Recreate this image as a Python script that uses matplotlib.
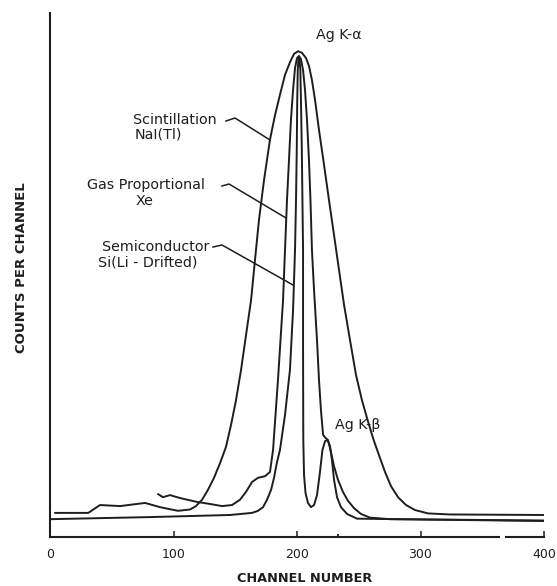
import matplotlib
matplotlib.use("Agg")
import matplotlib.pyplot as plt

# ---- data (channel number vs relative counts per channel, 0-100) ----
scint_ch = [4, 31, 40.5, 56.7, 77, 89, 103.6, 113.4, 118.2, 123.1, 127.9, 132.8, 137.7,
            142.5, 146.6, 150.6, 154.7, 158.7, 162.8, 166, 169.2, 173.3, 178.1, 182.2,
            186.2, 190.3, 194.3, 197.6, 200.8, 204, 207.3, 209.7, 212.1, 214.6, 217.8,
            221.9, 225.9, 230, 234, 238.1, 242.9, 247.8, 252.6, 256.7, 261.5, 266.4,
            271.3, 276.1, 281.8, 288.3, 295.5, 306.1, 323.9, 400]
scint_counts = [4.6, 4.6, 6.1, 5.9, 6.5, 5.7, 5.0, 5.25, 5.9, 7.1, 9.0, 11.3, 14.1,
                17.2, 21.4, 26.1, 31.9, 38.5, 45.2, 52.9, 60.5, 68.1, 75.8, 80.5,
                84.4, 88.2, 90.6, 92.2, 92.7, 92.4, 91.4, 89.9, 87.2, 83.4, 77.7,
                71, 64.3, 57.6, 51, 44.3, 37.6, 30.9, 26.1, 22.7, 18.9, 15.6,
                12.4, 9.7, 7.6, 6.1, 5.15, 4.5, 4.3, 4.2]

gas_ch = [87.4, 91.5, 97.2, 102.8, 107.7, 119, 129.6, 139.3, 147.4, 153.8, 158.7, 163.6,
          168.4, 174.1, 178.1, 180.6, 184.6, 188.7, 190.3, 191.9, 193.5, 195.1, 196.8,
          198.4, 200, 201.6, 203.2, 204.9, 206.5, 208.1, 209.7, 210.9, 212.1, 213.8,
          216.2, 217.8, 219.4, 221.1, 223.1, 225.1, 227.5, 230, 233.2, 237.2, 241.3,
          246.2, 251.8, 259.1, 275.3, 400]
gas_counts = [8.2, 7.6, 8.0, 7.6, 7.3, 6.7, 6.3, 5.9, 6.1, 7.1, 8.6, 10.5,
              11.3, 11.6, 12.4, 16.6, 30, 45.2, 54.8, 64.3, 71.9, 79.6, 85.3,
              89.5, 91.4, 91.8, 91.2, 89.1, 85.3, 79.6, 71.9, 64.3, 54.8, 47.1,
              37.6, 30, 24.2, 19.5, 18.9, 18.5, 16.2, 13.5, 10.9, 8.6, 6.9,
              5.5, 4.4, 3.7, 3.4, 3.15]

semi_ch = [0, 81, 145.7, 163.6, 168.4, 172.5, 175.7, 179, 181.4, 183.8, 186.2, 190.3,
           194.3, 196.8, 198.4, 199.2, 199.8, 200.2, 200.6, 201.2, 202, 202.7, 203.2,
           203.9, 204.4, 204.9, 204.9, 205.1, 205.7, 206.9, 208.9, 211.3, 213.8, 216.2,
           218.6, 220.6, 222.7, 224.7, 226.7, 228.3, 230, 232.4, 235.6, 240.5, 248.6, 400]
semi_counts = [3.4, 3.8, 4.2, 4.6, 5.0, 5.7, 7.1, 9.0, 11.3, 14.3, 16.6, 23.3,
               31.9, 43.3, 54.8, 64.3, 73.9, 83.4, 89.1, 91.4, 91.4, 89.1, 83.4,
               73.9, 64.3, 54.8, 35.7, 18.5, 11.8, 8.4, 6.5, 5.7, 6.1, 8.0,
               12.4, 16.6, 18.3, 18.5, 17.4, 14.7, 10.9, 7.6, 5.7, 4.4, 3.5, 3.05]

x_ticks = [0, 100, 200, 300, 400]
x_tick_labels = ["0", "100", "200", "300", "400"]

# ---- figure ----
W, H = 557, 586
fig = plt.figure(figsize=(W / 100, H / 100), dpi=100)
ax = fig.add_axes([50 / W, 49 / H, 494 / W, 524 / H])
ax.set_xlim(0, 400)
ax.set_ylim(0, 100)

ink = "#1e1e1e"
for xs, ys in [(scint_ch, scint_counts), (gas_ch, gas_counts), (semi_ch, semi_counts)]:
    ax.plot(xs, ys, color=ink, lw=1.4, solid_joinstyle="round", solid_capstyle="round")

for s in ["top", "right"]:
    ax.spines[s].set_visible(False)
for s in ["left", "bottom"]:
    ax.spines[s].set_color(ink)
    ax.spines[s].set_linewidth(1.5)

ax.set_yticks([])
ax.set_xticks(x_ticks)
ax.set_xticklabels(x_tick_labels, fontsize=9, color=ink)
ax.tick_params(axis="x", direction="in", length=4, width=1.1, color=ink, pad=8)
ax.set_xticks([233], minor=True)
ax.tick_params(axis="x", which="minor", direction="in", length=2.5, width=1.3, color=ink)
# small break in the channel axis line
ax.plot([364.5, 368.5], [0, 0], color="white", lw=3, clip_on=False, zorder=5,
        solid_capstyle="butt")

ax.text(-0.057, 0.515, "COUNTS PER CHANNEL", transform=ax.transAxes, rotation=90,
        ha="center", va="center", fontsize=9.5, color=ink, fontweight="bold")
fig.text(305 / W, 1 - 579 / H, "CHANNEL NUMBER", ha="center", va="center",
         fontsize=9.3, color=ink, fontweight="bold")

fs = 10.3

def px(x, y):
    return ((x - 50) / 1.235, (537 - y) / 5.24)

ax.text(*px(339, 35), "Ag K-α", ha="center", va="center", fontsize=fs, color=ink)
ax.text(*px(358, 425), "Ag K-β", ha="center", va="center", fontsize=fs, color=ink)

ax.text(*px(133, 120), "Scintillation", ha="left", va="center", fontsize=fs, color=ink)
ax.text(*px(135, 134), "NaI(Tl)", ha="left", va="center", fontsize=fs, color=ink)
ax.plot(*zip(px(226, 121), px(235, 118), px(270, 140)), color=ink, lw=1.1)

ax.text(*px(87, 185), "Gas Proportional", ha="left", va="center", fontsize=fs, color=ink)
ax.text(*px(145, 201), "Xe", ha="center", va="center", fontsize=fs, color=ink)
ax.plot(*zip(px(222, 186), px(229, 184), px(286, 218)), color=ink, lw=1.1)

ax.text(*px(102, 247), "Semiconductor", ha="left", va="center", fontsize=fs, color=ink)
ax.text(*px(98, 263), "Si(Li - Drifted)", ha="left", va="center", fontsize=fs, color=ink)
ax.plot(*zip(px(213, 247), px(222, 245), px(293, 285)), color=ink, lw=1.1)

fig.savefig("out.png", dpi=100, facecolor="white")
